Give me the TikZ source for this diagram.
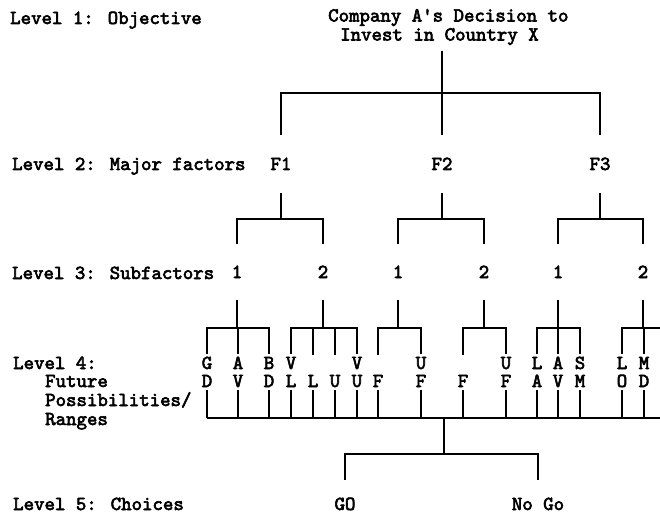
\documentclass[tikz,border=0pt]{standalone}
\usepackage{fontspec}
\newfontfamily\twfont{lmmono10-regular.otf}[FakeBold=3]
\begin{document}
\begin{tikzpicture}[x=1pt,y=-1pt,
  tw/.style={font=\twfont\fontsize{19.9}{20}\selectfont, inner sep=0pt, text height=12pt, text depth=0pt},
  lab/.style={tw, anchor=base west},
  fac/.style={tw, anchor=base, outer ysep=23pt},
  num/.style={tw, anchor=base, outer ysep=22pt},
  let/.style={tw, anchor=base, outer ysep=3pt},
  cho/.style={tw, anchor=base, outer ysep=18pt},
  ln/.style={line width=1.7pt},
]
\useasboundingbox (0,0) rectangle (660,518);
% left labels
\node[lab] (L1) at (10,24) {Level 1: Objective};
\node[lab] (L2) at (12,170) {Level 2: Major factors};
\node[lab] (L3) at (12,279) {Level 3: Subfactors};
\node[lab] (L4a) at (13,369) {Level 4:};
\node[lab] (L4b) at (45,387) {Future};
\node[lab] (L4c) at (45,406) {Possibilities/};
\node[lab] (L4d) at (45,425) {Ranges};
\node[lab] (L5) at (13,510) {Level 5: Choices};
% level 1
\node[lab] (t1) at (328,21.5) {Company A's Decision to};
\node[lab] (t2) at (340,40.5) {Invest in Country X};
% level 2
\node[fac] (F1) at (281,170) {F1};
\node[fac] (F2) at (442,170) {F2};
\node[fac] (F3) at (600,170) {F3};
% level 3
\node[num] (n11) at (237,278) {1};
\node[num] (n12) at (323,278) {2};
\node[num] (n21) at (398,278) {1};
\node[num] (n22) at (484,278) {2};
\node[num] (n31) at (558,278) {1};
\node[num] (n32) at (643,278) {2};
% level 4 top letters
\node[let] (a1) at (207,369) {G};
\node[let] (a2) at (238,369) {A};
\node[let] (a3) at (269,369) {B};
\node[let] (a4) at (291,369) {V};
\coordinate (e5) at (313,355);
\coordinate (e6) at (335,355);
\node[let] (a7) at (357,369) {V};
\coordinate (e8) at (378,355);
\node[let] (a9) at (421,369) {U};
\coordinate (e10) at (463,355);
\node[let] (a11) at (506,369) {U};
\node[let] (a12) at (537,369) {L};
\node[let] (a13) at (558,369) {A};
\node[let] (a14) at (580,369) {S};
\node[let] (a15) at (622,369) {L};
\node[let] (a16) at (644,369) {M};
% level 4 bottom letters
\node[let] (b1) at (207,387) {D};
\node[let] (b2) at (238,387) {V};
\node[let] (b3) at (269,387) {D};
\node[let] (b4) at (291,387) {L};
\node[let] (b5) at (313,387) {L};
\node[let] (b6) at (335,387) {U};
\node[let] (b7) at (357,387) {U};
\node[let] (b8) at (378,387) {F};
\node[let] (b9) at (421,387) {F};
\node[let] (b10) at (463,387) {F};
\node[let] (b11) at (506,387) {F};
\node[let] (b12) at (537,387) {A};
\node[let] (b13) at (558,387) {V};
\node[let] (b14) at (580,387) {M};
\node[let] (b15) at (622,387) {O};
\node[let] (b16) at (644,387) {D};
% level 5
\node[cho] (go) at (345,510) {GO};
\node[cho] (nogo) at (538,510) {No Go};
% junctions
\coordinate (j0) at (442,93);
\coordinate (j1) at (281,219);
\coordinate (j2) at (442,219);
\coordinate (j3) at (600,219);
\coordinate (g11) at (237,328);
\coordinate (g12) at (323,328);
\coordinate (g21) at (398,328);
\coordinate (g22) at (484,328);
\coordinate (g31) at (558,328);
\coordinate (g32) at (643,328);
\coordinate (gR) at (660,328);
\coordinate (bus) at (444,418);
\coordinate (busR) at (660,418);
\coordinate (cj) at (444,454);
% connectors level 1 -> 2
\draw[ln, shorten <=10pt] (t2.south -| j0) -- (j0);
\draw[ln] (j0) -| (F1.north);
\draw[ln] (j0) -- (F2.north);
\draw[ln] (j0) -| (F3.north);
% level 2 -> 3
\draw[ln] (F1.south) -- (j1);
\draw[ln] (j1) -| (n11.north);
\draw[ln] (j1) -| (n12.north);
\draw[ln] (F2.south) -- (j2);
\draw[ln] (j2) -| (n21.north);
\draw[ln] (j2) -| (n22.north);
\draw[ln] (F3.south) -- (j3);
\draw[ln] (j3) -| (n31.north);
\draw[ln] (j3) -| (n32.north);
% level 3 -> 4
\draw[ln] (n11.south) -- (g11);
\foreach \t in {a1,a2,a3} \draw[ln] (g11) -| (\t.north);
\draw[ln] (n12.south) -- (g12);
\foreach \t in {a4,e5,e6,a7} \draw[ln] (g12) -| (\t.north);
\draw[ln] (n21.south) -- (g21);
\foreach \t in {e8,a9} \draw[ln] (g21) -| (\t.north);
\draw[ln] (n22.south) -- (g22);
\foreach \t in {e10,a11} \draw[ln] (g22) -| (\t.north);
\draw[ln] (n31.south) -- (g31);
\foreach \t in {a12,a13,a14} \draw[ln] (g31) -| (\t.north);
\draw[ln] (n32.south) -- (g32);
\foreach \t in {a15,a16} \draw[ln] (g32) -| (\t.north);
\draw[ln] (g32) -- (gR);
% level 4 -> bus
\foreach \b in {b1,b2,b3,b4,b5,b6,b7,b8,b9,b10,b11,b12,b13,b14,b15,b16}
  \draw[ln] (\b.south) -- (\b.south |- bus);
\draw[ln] (b1.south |- bus) -- (busR);
% bus -> choices
\draw[ln] (bus) -- (cj);
\draw[ln] (cj) -| (go.north);
\draw[ln] (cj) -| (nogo.north);
\end{tikzpicture}
\end{document}
